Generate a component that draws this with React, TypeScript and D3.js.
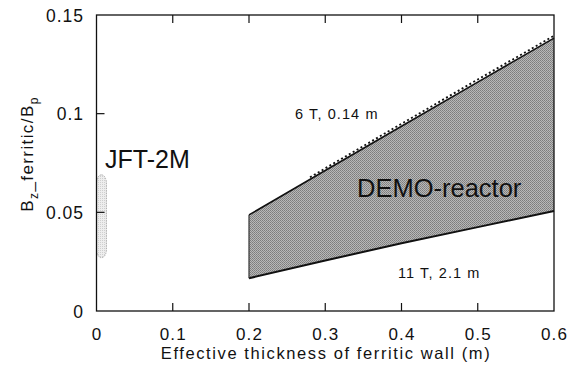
import React from "react";
import * as d3 from "d3";

const xTicks = [0, 0.1, 0.2, 0.3, 0.4, 0.5, 0.6];
const yTicks = [0, 0.05, 0.1, 0.15];
const upperX = [0.2, 0.3, 0.4, 0.5, 0.6];
const upperY = [0.0487, 0.0712, 0.0936, 0.116, 0.1383];
const lowerX = [0.2, 0.3, 0.4, 0.5, 0.6];
const lowerY = [0.0166, 0.0256, 0.0343, 0.0425, 0.0507];
const dottedX = [0.28, 0.3, 0.4, 0.5, 0.6];
const dottedY = [0.0678, 0.0723, 0.0949, 0.1173, 0.1395];
const jftX = [0, 0.013];
const jftY = [0.027, 0.069];

export default function App() {
  const W = 571, H = 374;
  const m = { l: 96.5, r: 17, t: 15, b: 63 };
  const x = d3.scaleLinear().domain([0, 0.6]).range([m.l, W - m.r]);
  const y = d3.scaleLinear().domain([0, 0.15]).range([H - m.b, m.t]);
  const font = "'Liberation Sans', Arial, sans-serif";

  const upperPts: [number, number][] = upperX.map((v, i) => [v, upperY[i]]);
  const lowerPts: [number, number][] = lowerX.map((v, i) => [v, lowerY[i]]);
  const poly = [...upperPts, ...lowerPts.slice().reverse()];
  const line = d3.line<[number, number]>().x(d => x(d[0])).y(d => y(d[1]));
  const area = line(poly) + "Z";
  const dotPts: [number, number][] = dottedX.map((v, i) => [v, dottedY[i]]);

  const jx0 = x(jftX[0]), jx1 = x(jftX[1]);
  const jy0 = y(jftY[1]), jy1 = y(jftY[0]);
  const jw = jx1 - jx0;

  return (
    <svg width={W} height={H} style={{ position: "absolute", left: 0, top: 0 }} fontFamily={font}>
      <defs>
        <pattern id="stip" width="2" height="2" patternUnits="userSpaceOnUse">
          <rect width="2" height="2" fill="#b8b8b8" />
          <rect width="1" height="1" fill="#7c7c7c" />
          <rect x="1" y="1" width="1" height="1" fill="#888888" />
        </pattern>
        <pattern id="stip2" width="2" height="2" patternUnits="userSpaceOnUse">
          <rect width="2" height="2" fill="#eeeeee" />
          <rect width="1" height="1" fill="#cfcfcf" />
        </pattern>
      </defs>
      <rect width={W} height={H} fill="white" />
      <path d={area} fill="url(#stip)" stroke="none" />
      <path d={line(upperPts)!} fill="none" stroke="#111" strokeWidth={1.6} />
      <path d={line(lowerPts)!} fill="none" stroke="#111" strokeWidth={2} />
      <line x1={x(0.2)} x2={x(0.2)} y1={y(upperY[0])} y2={y(lowerY[0])} stroke="#333" strokeWidth={1.2} />
      <path d={line(dotPts)!} fill="none" stroke="#111" strokeWidth={1.8} strokeDasharray="2,2.5" />
      <rect x={jx0} y={jy0} width={jw} height={jy1 - jy0} rx={jw / 2} ry={jw / 1.2}
        fill="url(#stip2)" stroke="#999" strokeWidth={0.8} strokeDasharray="1.5,1" />
      <rect x={m.l} y={m.t} width={W - m.l - m.r} height={H - m.t - m.b} fill="none" stroke="#111" strokeWidth={1.3} />
      {xTicks.map(t => (
        <g key={"x" + t}>
          {t > 0 && t < 0.6 && <line x1={x(t)} x2={x(t)} y1={y(0)} y2={y(0) - 8} stroke="#111" strokeWidth={1.2} />}
          {t > 0 && t < 0.6 && <line x1={x(t)} x2={x(t)} y1={y(0.15)} y2={y(0.15) + 8} stroke="#111" strokeWidth={1.2} />}
          <text x={x(t) + 0.5} y={y(0) + 28.5} textAnchor="middle" fontSize={17} letterSpacing={1.1} fill="#111">{t === 0 ? "0" : String(t)}</text>
        </g>
      ))}
      {yTicks.map(t => (
        <g key={"y" + t}>
          {t > 0 && t < 0.15 && <line x1={x(0)} x2={x(0) + 8} y1={y(t)} y2={y(t)} stroke="#111" strokeWidth={1.2} />}
          <text x={x(0) - 12.5} y={y(t) + 6.5} textAnchor="end" fontSize={17.5} letterSpacing={1.0} fill="#111">{t === 0 ? "0" : String(t)}</text>
        </g>
      ))}
      <text x={(m.l + W - m.r) / 2 + 0.8} y={359} textAnchor="middle" fontSize={16.5} letterSpacing={1.6} fill="#111">Effective thickness of ferritic wall (m)</text>
      <text transform={`translate(33, 154) rotate(-90)`} textAnchor="middle" fontSize={17} letterSpacing={1.4} fill="#111">
        B<tspan fontSize={12} dy={5}>z</tspan><tspan dy={-5}>_ferritic/B</tspan><tspan fontSize={12} dy={5}>p</tspan>
      </text>
      <text x={105} y={168} fontSize={25} fill="#111">JFT-2M</text>
      <text x={357} y={197} fontSize={25.5} fill="#111">DEMO-reactor</text>
      <text x={295} y={119} fontSize={14.5} letterSpacing={1.1} fill="#111">6 T, 0.14 m</text>
      <text x={398} y={278} fontSize={14.5} letterSpacing={1.1} fill="#111">11 T, 2.1 m</text>
    </svg>
  );
}
